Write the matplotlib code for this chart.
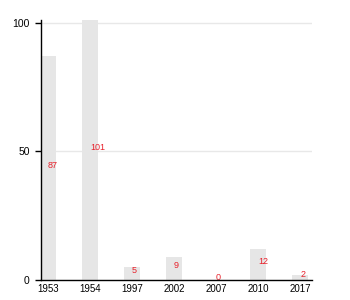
import matplotlib
matplotlib.use("Agg")
import matplotlib.pyplot as plt

years = ['1953', '1954', '1997', '2002', '2007', '2010', '2017']
counts = [87, 101, 5, 9, 0, 12, 2]

plt.rcParams['font.family'] = ['Liberation Sans', 'DejaVu Sans']

fig = plt.figure(figsize=(3.5, 3.0), dpi=100)
ax = fig.add_axes([0.117, 0.067, 0.774, 0.866])

x = list(range(len(years)))
ax.bar(x, counts, width=0.38, color='#e6e6e6', zorder=2)
for xi, c in zip(x, counts):
    ax.annotate(str(c), (xi, c / 2), xytext=(0, 2), textcoords='offset points',
                ha='left', va='center', color='#e8202a', fontsize=6.5, zorder=3)

ax.set_xticks(x)
ax.set_xticklabels(years)
ax.set_yticks([0, 50, 100])
ax.set_xlim(-0.17, 6.28)
ax.set_ylim(0, 101)
ax.grid(axis='y', color='#e8e8e8', linewidth=1, zorder=0)
ax.tick_params(axis='x', length=0, labelsize=7, pad=3)
ax.tick_params(axis='y', length=4, width=1, labelsize=7.5, pad=4)
for s in ['top', 'right']:
    ax.spines[s].set_visible(False)
for s in ['left', 'bottom']:
    ax.spines[s].set_linewidth(1)
    ax.spines[s].set_zorder(4)

fig.savefig('out.png', dpi=100)
